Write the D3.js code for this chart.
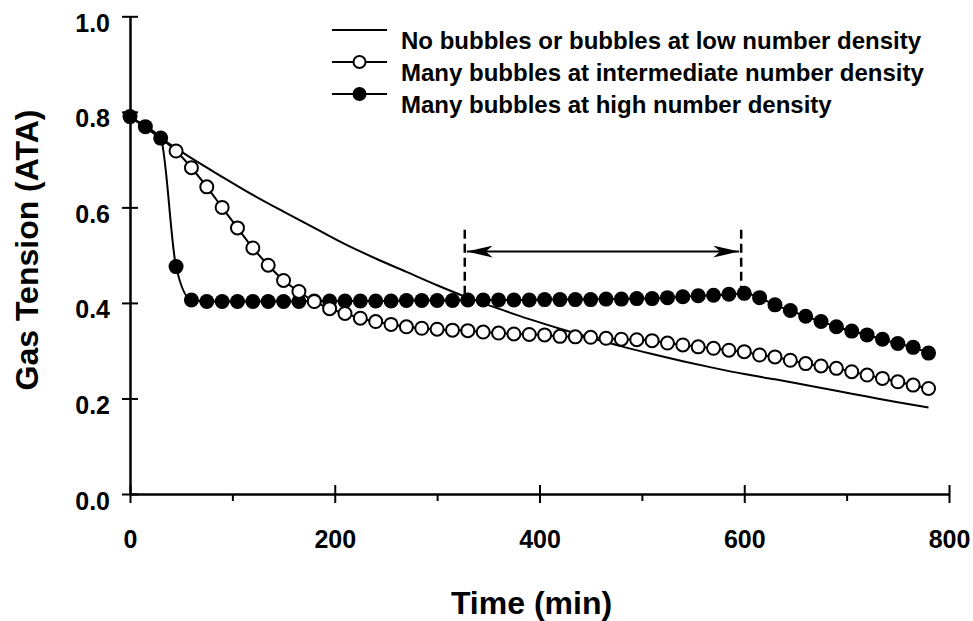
<!DOCTYPE html>
<html><head><meta charset="utf-8">
<script src="https://cdn.jsdelivr.net/npm/d3@7/dist/d3.min.js"></script>
<style>body{margin:0;background:#fff}</style>
</head><body>
<svg id="chart" width="973" height="621"></svg>
<script>
// ---------- data ----------
const seriesNames = [
  "No bubbles or bubbles at low number density",
  "Many bubbles at intermediate number density",
  "Many bubbles at high number density"
];
const noBubbleTimes = [0,30,60,90,120,150,180,210,240,270,300,330,360,390,420,450,480,510,540,570,600,630,660,690,720,750,780];
const noBubbleValues = [0.790,0.745,0.703,0.664,0.626,0.591,0.557,0.523,0.493,0.465,0.437,0.411,0.388,0.366,0.346,0.327,0.309,0.293,0.278,0.264,0.251,0.240,0.228,0.216,0.204,0.192,0.181];

const markerTimes = [0,15,30,45,60,75,90,105,120,135,150,165,180,195,210,225,240,255,270,285,300,315,330,345,360,375,390,405,420,435,450,465,480,495,510,525,540,555,570,585,600,615,630,645,660,675,690,705,720,735,750,765,780];
const intermediateValues = [0.790,0.769,0.745,0.718,0.683,0.643,0.600,0.557,0.515,0.479,0.447,0.424,0.403,0.388,0.378,0.368,0.361,0.355,0.350,0.347,0.345,0.343,0.342,0.339,0.337,0.335,0.334,0.333,0.330,0.329,0.328,0.326,0.324,0.323,0.321,0.316,0.312,0.308,0.305,0.301,0.298,0.291,0.287,0.280,0.273,0.268,0.263,0.256,0.249,0.242,0.235,0.228,0.221];
const highValues = [0.790,0.769,0.745,0.476,0.406,0.403,0.403,0.403,0.403,0.403,0.403,0.403,0.404,0.404,0.404,0.404,0.404,0.404,0.405,0.405,0.405,0.405,0.406,0.406,0.406,0.406,0.406,0.407,0.407,0.407,0.407,0.408,0.408,0.409,0.409,0.411,0.413,0.415,0.416,0.418,0.420,0.411,0.396,0.384,0.372,0.361,0.350,0.341,0.333,0.324,0.315,0.307,0.295];

const xMajorTicks = [0,200,400,600,800];
const xMinorTicks = [100,300,500,700];
const yTicks = [0.0,0.2,0.4,0.6,0.8,1.0];
const xTitle = "Time (min)";
const yTitle = "Gas Tension (ATA)";
// annotation: plateau interval (min) and arrow level (ATA)
const plateauStart = 327, plateauEnd = 597;
const plateauStartBottom = 0.412, plateauEndBottom = 0.427, dashTop = 0.553, arrowLevel = 0.5075;

// ---------- chart ----------
const svg = d3.select("#chart");
const FONT = "'Liberation Sans', Arial, Helvetica, sans-serif";
const x = d3.scaleLinear().domain([0,800]).range([130,949]);
const y = d3.scaleLinear().domain([0,1]).range([494,16.3]);

// axes
const gx = svg.append("g").attr("transform", `translate(0,${y(0)})`)
  .call(d3.axisBottom(x).tickValues(xMajorTicks).tickSize(9).tickSizeOuter(0).tickFormat(d3.format("d")));
gx.selectAll(".tick line").attr("y1",-9).attr("stroke-width",2);
gx.select(".domain").attr("stroke-width",2.5);
gx.selectAll(".tick text").attr("y",54).attr("dy",0)
  .style("font-family",FONT).style("font-size","25px").style("font-weight","bold").attr("fill","#000");
const gxm = svg.append("g").attr("transform", `translate(0,${y(0)})`)
  .call(d3.axisBottom(x).tickValues(xMinorTicks).tickSize(7).tickSizeOuter(0).tickFormat(""));
gxm.select(".domain").remove();
gxm.selectAll(".tick line").attr("stroke-width",2);

const gy = svg.append("g").attr("transform", `translate(${x(0)},0)`)
  .call(d3.axisLeft(y).tickValues(yTicks).tickSize(8).tickSizeOuter(0).tickFormat(d3.format(".1f")));
gy.selectAll(".tick line").attr("x1",8).attr("stroke-width",2);
gy.select(".domain").attr("stroke-width",2.5);
gy.selectAll(".tick text").attr("x",-20).attr("dy",0).attr("y",15)
  .style("font-family",FONT).style("font-size","25px").style("font-weight","bold").attr("fill","#000");
svg.selectAll(".domain").attr("stroke","#000");

// titles
svg.append("text").attr("x",(x(0)+x(800))/2 - 8).attr("y",614).attr("text-anchor","middle")
  .style("font-family",FONT).style("font-size","32px").style("font-weight","bold").text(xTitle);
svg.append("text").attr("transform",`translate(38,250) rotate(-90)`).attr("text-anchor","middle")
  .style("font-family",FONT).style("font-size","32px").style("font-weight","bold").text(yTitle);

// lines
const line = d3.line().x(d=>x(d[0])).y(d=>y(d[1])).curve(d3.curveMonotoneX);
const noB = noBubbleTimes.map((t,i)=>[t,noBubbleValues[i]]);
const inter = markerTimes.map((t,i)=>[t,intermediateValues[i]]);
const high = markerTimes.map((t,i)=>[t,highValues[i]]);
[noB, inter, high].forEach(s=>{
  svg.append("path").datum(s).attr("d",line).attr("fill","none").attr("stroke","#000").attr("stroke-width",2);
});

// markers
svg.append("g").selectAll("circle").data(high).join("circle")
  .attr("cx",d=>x(d[0])).attr("cy",d=>y(d[1])).attr("r",7.5).attr("fill","#000");
svg.append("g").selectAll("circle").data(inter.filter((d,i)=>d[1]!==highValues[i])).join("circle")
  .attr("cx",d=>x(d[0])).attr("cy",d=>y(d[1])).attr("r",6.5).attr("fill","#fff").attr("stroke","#000").attr("stroke-width",2);

// annotation
const defs = svg.append("defs");
defs.append("marker").attr("id","ah").attr("viewBox","0 0 26 12").attr("refX",26).attr("refY",6)
  .attr("markerWidth",26).attr("markerHeight",12).attr("markerUnits","userSpaceOnUse").attr("orient","auto-start-reverse")
  .append("path").attr("d","M0,0 L26,6 L0,12 L7,6 Z").attr("fill","#000");
svg.append("line").attr("x1",x(plateauStart)).attr("x2",x(plateauStart)).attr("y1",y(dashTop)).attr("y2",y(plateauStartBottom))
  .attr("stroke","#000").attr("stroke-width",2.5).attr("stroke-dasharray","9,5");
svg.append("line").attr("x1",x(plateauEnd)).attr("x2",x(plateauEnd)).attr("y1",y(dashTop)).attr("y2",y(plateauEndBottom))
  .attr("stroke","#000").attr("stroke-width",2.5).attr("stroke-dasharray","9,5");
svg.append("line").attr("x1",x(plateauStart)+2).attr("x2",x(plateauEnd)-2).attr("y1",y(arrowLevel)).attr("y2",y(arrowLevel))
  .attr("stroke","#000").attr("stroke-width",2).attr("marker-start","url(#ah)").attr("marker-end","url(#ah)");

// legend
const legY = [30,62,94];
const lg = svg.append("g");
seriesNames.forEach((name,i)=>{
  lg.append("line").attr("x1",332).attr("x2",387).attr("y1",legY[i]).attr("y2",legY[i]).attr("stroke","#000").attr("stroke-width",2);
  if(i===1) lg.append("circle").attr("cx",359.5).attr("cy",legY[i]).attr("r",6).attr("fill","#fff").attr("stroke","#000").attr("stroke-width",2);
  if(i===2) lg.append("circle").attr("cx",359.5).attr("cy",legY[i]).attr("r",7).attr("fill","#000");
  lg.append("text").attr("x",401).attr("y",legY[i]+18.5)
    .style("font-family",FONT).style("font-size","24px").style("font-weight","bold").text(name);
});
</script>
</body></html>
